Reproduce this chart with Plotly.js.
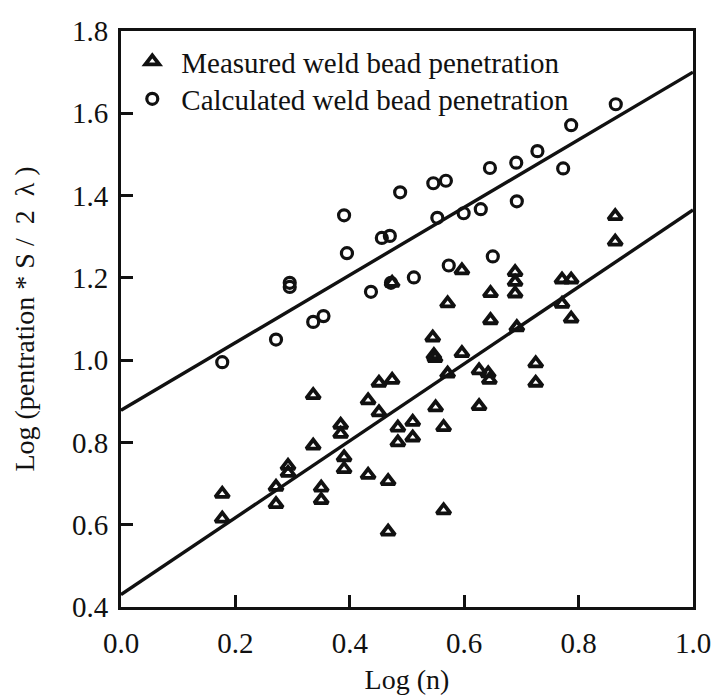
<!DOCTYPE html>
<html>
<head>
<meta charset="utf-8">
<script src="https://cdn.plot.ly/plotly-3.0.1.min.js"></script>
<style>html,body{margin:0;padding:0;background:#fff;}#chart{width:715px;height:698px;}</style>
</head>
<body>
<div id="chart"></div>
<script>
// Measured weld bead penetration (triangles)
const measuredX = [0.177,0.177,0.271,0.271,0.292,0.292,0.336,0.336,0.350,0.350,
  0.384,0.384,0.390,0.390,0.432,0.432,0.451,0.451,0.474,0.467,0.467,
  0.484,0.484,0.510,0.510,0.545,0.547,0.549,0.550,0.564,0.564,
  0.571,0.571,0.596,0.596,0.626,0.626,0.642,0.644,0.646,0.646,
  0.689,0.689,0.689,0.692,0.725,0.725,0.771,0.787,0.771,0.787,
  0.864,0.864,0.474];
const measuredY = [0.675,0.615,0.692,0.650,0.743,0.726,0.915,0.792,0.690,0.660,
  0.843,0.821,0.764,0.735,0.902,0.721,0.873,0.945,0.952,0.706,0.583,
  0.836,0.800,0.850,0.812,1.055,1.012,1.005,0.885,0.837,0.635,
  1.138,0.967,1.218,1.017,0.975,0.888,0.968,0.952,1.163,1.097,
  1.214,1.190,1.162,1.080,0.992,0.945,1.196,1.196,1.137,1.101,
  1.350,1.288,1.188];
// Calculated weld bead penetration (circles)
const calculatedX = [0.177,0.271,0.295,0.295,0.336,0.354,0.390,0.395,0.437,0.456,
  0.470,0.472,0.488,0.512,0.546,0.568,0.553,0.573,0.599,0.629,
  0.645,0.650,0.691,0.692,0.728,0.773,0.787,0.865];
const calculatedY = [0.995,1.050,1.188,1.178,1.093,1.107,1.352,1.260,1.166,1.297,
  1.302,1.188,1.408,1.201,1.430,1.436,1.346,1.230,1.357,1.367,
  1.467,1.252,1.480,1.386,1.508,1.466,1.571,1.622];
// Regression lines
const fitX = [0, 1];
const measuredFit = [0.43, 1.365];
const calculatedFit = [0.878, 1.70];
// Ticks
const xTicks = [0, 0.2, 0.4, 0.6, 0.8, 1.0];
const yTicks = [0.4, 0.6, 0.8, 1.0, 1.2, 1.4, 1.6, 1.8];

const FONT = "Liberation Serif";

const traces = [
  {x: fitX, y: measuredFit, mode: 'lines', line: {color: '#111', width: 3.4}, showlegend: false, hoverinfo: 'skip'},
  {x: fitX, y: calculatedFit, mode: 'lines', line: {color: '#111', width: 3.4}, showlegend: false, hoverinfo: 'skip'},
  {x: measuredX, y: measuredY, mode: 'markers', name: 'Measured weld bead penetration',
   marker: {symbol: 'triangle-up-open', size: 12, color: '#111', line: {width: 3.8, color: '#111'}},
   legend: 'legend'},
  {x: calculatedX, y: calculatedY, mode: 'markers', name: 'Calculated weld bead penetration',
   marker: {symbol: 'circle-open', size: 11, color: '#111', line: {width: 3.2, color: '#111'}},
   legend: 'legend2'}
];

function axisCommon() {
  return {
    showgrid: false, zeroline: false, showline: true, mirror: true,
    linecolor: '#111', linewidth: 3, ticks: 'inside', ticklen: 12, tickwidth: 3,
    tickcolor: '#111', tickformat: '.1f',
    tickfont: {family: FONT, size: 29, color: '#111'}
  };
}

const layout = {
  width: 715, height: 698,
  margin: {l: 121, r: 22, t: 31, b: 91},
  paper_bgcolor: '#fff', plot_bgcolor: '#fff',
  font: {family: FONT, color: '#111'},
  xaxis: Object.assign(axisCommon(), {
    range: [0, 1], tickvals: xTicks, ticklabelstandoff: 8,
    title: {text: 'Log (n)', font: {family: FONT, size: 28, color: '#111'}, standoff: 12}
  }),
  yaxis: Object.assign(axisCommon(), {
    range: [0.4, 1.8], tickvals: yTicks, ticklabelstandoff: 4,
    title: {text: 'Log (pentration * S / \u00a02 \u00a0\u03bb )', font: {family: FONT, size: 28, color: '#111'}, standoff: 30}
  }),
  legend: {x: 0.004, y: 0.947, xanchor: 'left', yanchor: 'middle', itemwidth: 48,
    bgcolor: 'rgba(0,0,0,0)', font: {family: FONT, size: 29, color: '#111'}},
  legend2: {x: 0.004, y: 0.882, xanchor: 'left', yanchor: 'middle', itemwidth: 48,
    bgcolor: 'rgba(0,0,0,0)', font: {family: FONT, size: 29, color: '#111'}}
};

Plotly.newPlot('chart', traces, layout, {displayModeBar: false, staticPlot: true});
</script>
</body>
</html>
